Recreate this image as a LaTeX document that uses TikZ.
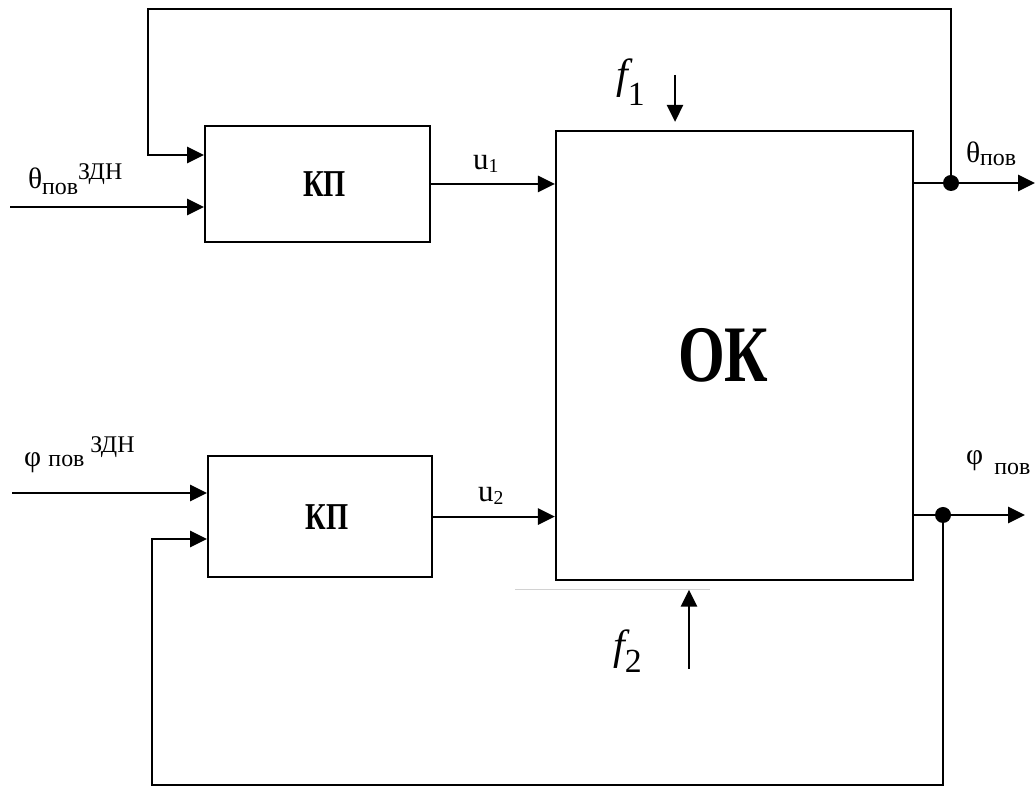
\documentclass[tikz,border=0pt]{standalone}
\usepackage{fontspec}
\setmainfont{Liberation Serif}
\newfontfamily\blokfont{Liberation Serif}[FakeStretch=0.75]
\usetikzlibrary{arrows.meta}
\newcommand{\bigsz}{\fontsize{21}{24}\selectfont}
\newcommand{\smsz}{\fontsize{17}{19}\selectfont}

\begin{document}
\begin{tikzpicture}[>={Triangle[length=12pt,width=11.5pt]}, line width=1.5pt,
	blok/.style={draw, inner sep=0pt, font=\blokfont\bfseries},
	lbl/.style={anchor=base west, inner sep=0pt}]
	\useasboundingbox (0,0) rectangle (25.9,19.725);
	% blocks
	\node[blok, minimum width=5.625cm, minimum height=2.9cm, font=\blokfont\bfseries\fontsize{27}{30}\selectfont] (kp1) at (7.94,15.125) {\hspace*{10pt}КП};
	\node[blok, minimum width=5.6cm, minimum height=3.025cm, font=\blokfont\bfseries\fontsize{27}{30}\selectfont] (kp2) at (8.0,6.81) {\hspace*{10pt}КП};
	\node[blok, minimum width=8.925cm, minimum height=11.225cm, font=\blokfont\bfseries\fontsize{57}{60}\selectfont] (ok) at (18.36,10.84) {\hspace*{-16pt}ОК};
	% inputs, outputs
	\coordinate (thin) at (0.25,14.55);
	\coordinate (phin) at (0.3,7.4);
	\coordinate (j1) at (23.775,15.15);
	\coordinate (j2) at (23.575,6.85);
	\coordinate (thout) at (25.875,15.15);
	\coordinate (phout) at (25.625,6.85);
	\draw[->] (thin) -- (thin -| kp1.west);
	\draw[->] (phin) -- (phin -| kp2.west);
	\draw[->] (kp1.east) -- (kp1.east -| ok.west);
	\draw[->] (kp2.east) -- (kp2.east -| ok.west);
	\draw[->] (ok.east |- j1) -- (thout);
	\draw[->] (ok.east |- j2) -- (phout);
	\fill (j1) circle (0.2) (j2) circle (0.2);
	% feedback
	\coordinate (fb1) at (3.7,15.85);
	\coordinate (fb2) at (3.8,6.25);
	\draw[->] (j1) |- (fb1 |- 0,19.5) -- (fb1) -- (fb1 -| kp1.west);
	\draw[->] (j2) |- (fb2 |- 0,0.1) -- (fb2) -- (fb2 -| kp2.west);
	% disturbances
	\coordinate (f1s) at (16.875,17.85);
	\coordinate (f2s) at (17.225,3.0);
	\draw[->, shorten >=0.2cm] (f1s) -- (f1s |- ok.north);
	\draw[->, shorten >=0.22cm] (f2s) -- (f2s |- ok.south);
	\draw[gray!35, line width=0.5pt] (12.875,5.0) -- (17.75,5.0);
	% labels
	\node[lbl] (thzdn) at (0.675,15.0) {\bigsz θ\raisebox{-4pt}{\smsz пов}\raisebox{6.5pt}{\smsz ЗДН}};
	\node[lbl] (phzdn) at (0.575,8.05) {\bigsz φ \smsz пов \raisebox{10pt}{ЗДН}};
	\node[lbl] (thpov) at (24.125,15.65) {\bigsz θ\raisebox{-2pt}{\smsz пов}};
	\node[lbl] (phpov) at (24.125,8.1) {\bigsz φ\hspace{8pt}\raisebox{-7pt}{\smsz пов}};
	\node[lbl] (u1) at (11.8,15.475) {\fontsize{22}{24}\selectfont u\raisebox{-2pt}{\fontsize{14}{16}\selectfont 1}};
	\node[lbl] (u2) at (11.925,7.175) {\fontsize{22}{24}\selectfont u\raisebox{-2pt}{\fontsize{14}{16}\selectfont 2}};
	\node[lbl] (f1) at (15.375,17.5) {\fontsize{30}{32}\selectfont\itshape f\upshape\raisebox{-12pt}{\fontsize{24}{26}\selectfont 1}};
	\node[lbl] (f2) at (15.3,3.225) {\fontsize{30}{32}\selectfont\itshape f\upshape\raisebox{-9pt}{\fontsize{24}{26}\selectfont 2}};
\end{tikzpicture}
\end{document}
